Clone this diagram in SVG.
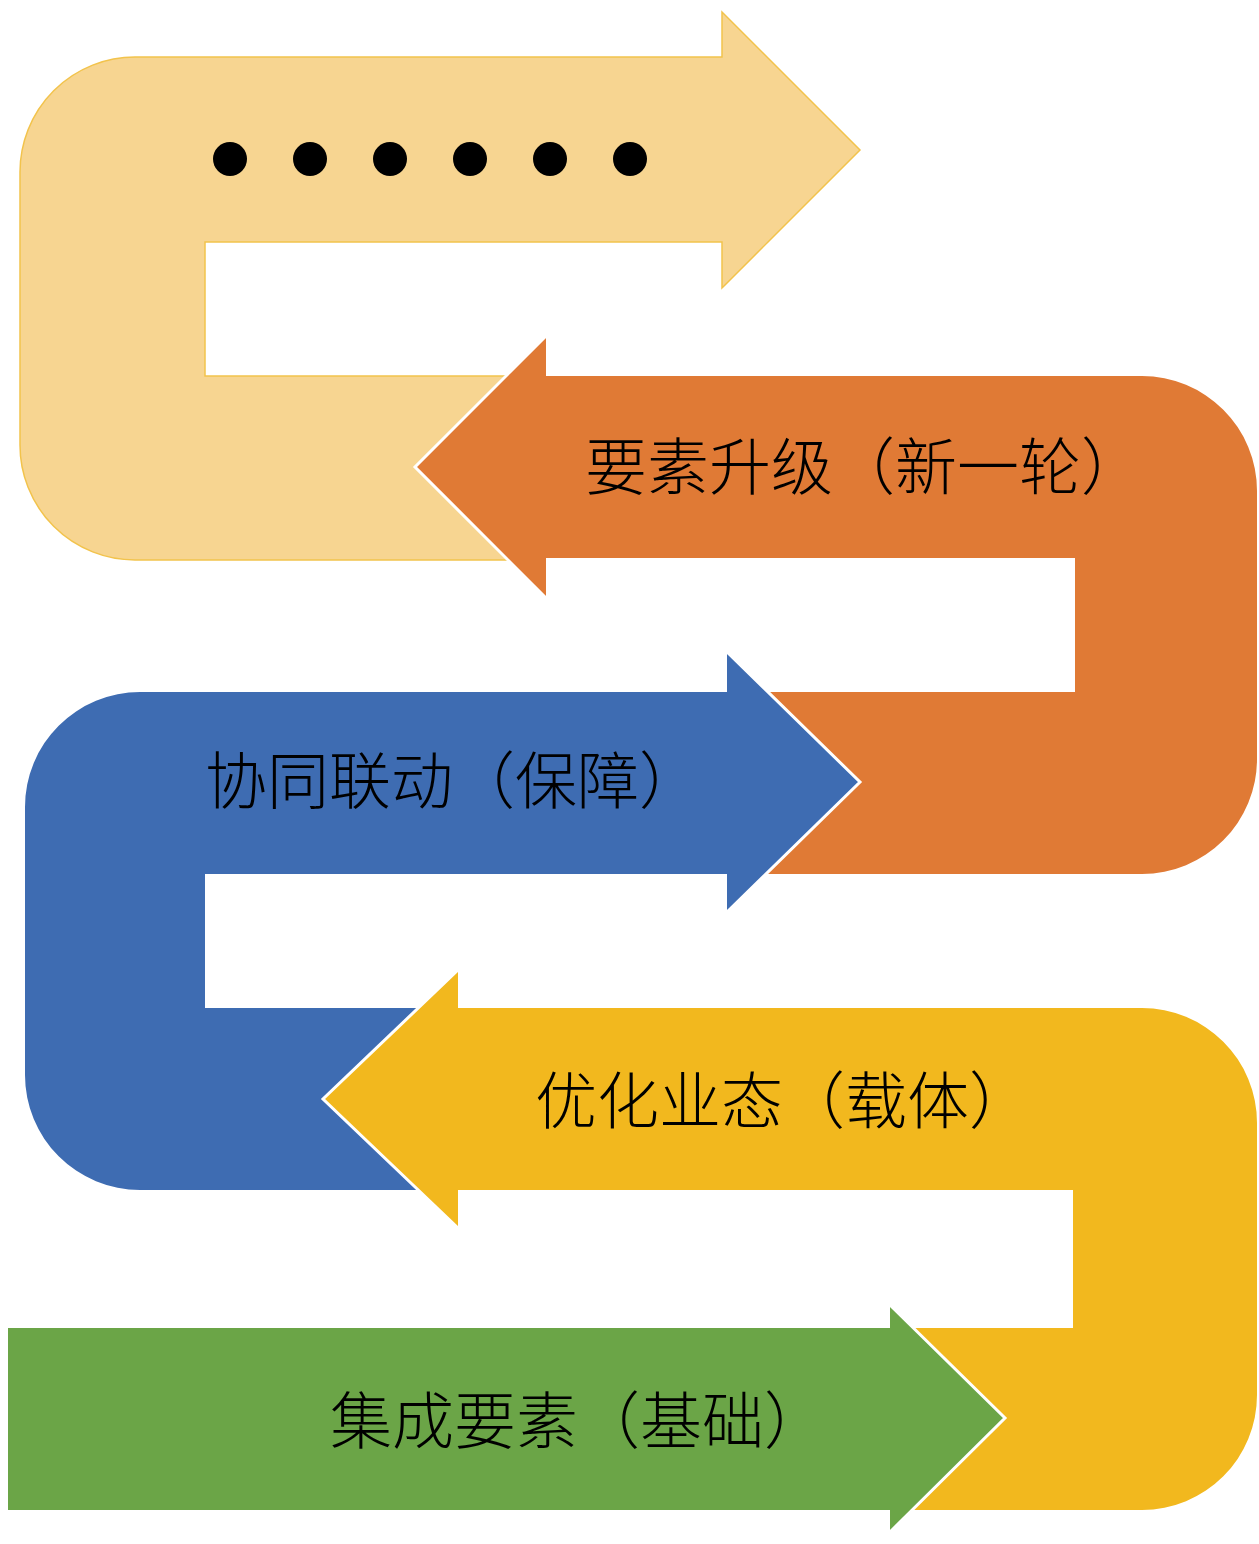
<svg xmlns="http://www.w3.org/2000/svg" width="1259" height="1544" viewBox="0 0 1259 1544">
<style>
.lbl{font-family:"Noto Sans CJK SC","Noto Sans CJK JP",sans-serif;font-size:62px;font-weight:300;fill:#000;dominant-baseline:central}
.edge{fill:none;stroke:#fff;stroke-width:3}
</style>
<rect width="1259" height="1544" fill="#fff"/>
<g id="node-next">
<path d="M135,57 H722 V12 L860,150 L722,288 V242 H205 V376 H530 V560 H135 A115,115 0 0 1 20,445 V172 A115,115 0 0 1 135,57 Z" fill="#F7D591" stroke="#F2C34C" stroke-width="1.5"/>
<g fill="#000">
<circle cx="230" cy="159" r="17"/><circle cx="310" cy="159" r="17"/><circle cx="390" cy="159" r="17"/>
<circle cx="470" cy="159" r="17"/><circle cx="550" cy="159" r="17"/><circle cx="630" cy="159" r="17"/>
</g>
</g>
<g id="node-upgrade">
<path d="M546,376 H1142 A115,115 0 0 1 1257,491 V759 A115,115 0 0 1 1142,874 H745 V692 H1075 V558 H546 V598 L415,467 L546,336 Z" fill="#E07A35"/>
<path class="edge" d="M546,336 L415,467 L546,598"/>
<text class="lbl" x="585" y="463">要素升级（新一轮）</text>
</g>
<g id="node-synergy">
<path d="M140,692 H727 V652 L860,782 L727,912 V874 H205 V1008 H440 V1190 H140 A115,115 0 0 1 25,1075 V807 A115,115 0 0 1 140,692 Z" fill="#3E6CB2"/>
<path class="edge" d="M727,652 L860,782 L727,912"/>
<text class="lbl" x="205" y="777">协同联动（保障）</text>
</g>
<g id="node-business">
<path d="M458,1008 H1142 A115,115 0 0 1 1257,1123 V1395 A115,115 0 0 1 1142,1510 H900 V1328 H1073 V1190 H458 V1228 L323,1099 L458,970 Z" fill="#F2B81E"/>
<path class="edge" d="M458,970 L323,1099 L458,1228"/>
<text class="lbl" x="535" y="1097">优化业态（载体）</text>
</g>
<g id="node-integrate">
<path d="M8,1328 H890 V1305 L1005,1418 L890,1532 V1510 H8 Z" fill="#6BA547"/>
<path class="edge" d="M890,1305 L1005,1418 L890,1532"/>
<text class="lbl" x="330" y="1417">集成要素（基础）</text>
</g>
<g id="connectors"/>
</svg>
